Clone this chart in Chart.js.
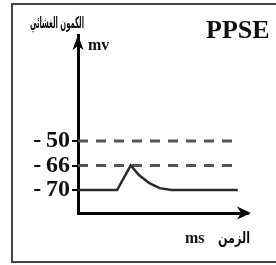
<!DOCTYPE html>
<html>
<head>
<meta charset="utf-8">
<script src="https://cdn.jsdelivr.net/npm/chart.js@4"></script>
<style>
  html, body { margin: 0; padding: 0; background: #fff; }
  #wrap { width: 276px; height: 265px; }
</style>
</head>
<body>
<div id="wrap"><canvas id="ppseChart"></canvas></div>
<script>
// Membrane potential (mV) vs time (ms) - excitatory postsynaptic potential
const timeMs = [0, 23, 31, 36, 42, 48, 55, 94];
const potentialMv = [-70, -70, -66, -67.6, -68.9, -69.7, -70, -70];

// levels marked on the y axis (schematic, evenly spaced)
const levelsMv = [-70, -66, -50];
const dashedLevelsMv = [-50, -66];
const dashEndMs = 91;

// axis texts
const yTitle = 'الكمون الغشائي';
const yUnit = 'mv';
const xTitle = 'الزمن';
const xUnit = 'ms';
const chartTag = 'PPSE';

// the picture spaces the marked levels evenly, so map mV onto level steps
function toLevel(mv) {
    let i = 0;
    while (i < levelsMv.length - 2 && mv > levelsMv[i + 1]) i++;
    return i + (mv - levelsMv[i]) / (levelsMv[i + 1] - levelsMv[i]);
}

const serif = "'Liberation Serif', 'Times New Roman', serif";

const curveData = timeMs.map((t, i) => ({ x: t, y: toLevel(potentialMv[i]) }));
const dashedSets = dashedLevelsMv.map(mv => ({
    data: [{ x: 0, y: toLevel(mv) }, { x: dashEndMs, y: toLevel(mv) }],
    borderColor: '#555',
    borderWidth: 3,
    borderDash: [10, 8],
    pointRadius: 0
}));

const decorPlugin = {
    id: 'decor',
    beforeDraw(chart) {
        const ctx = chart.ctx;
        ctx.save();
        ctx.fillStyle = '#fff';
        ctx.fillRect(0, 0, chart.width, chart.height);
        ctx.strokeStyle = '#444';
        ctx.lineWidth = 2;
        ctx.beginPath();
        ctx.moveTo(290, 4);
        ctx.lineTo(12, 4);
        ctx.lineTo(12, 262);
        ctx.lineTo(290, 262);
        ctx.stroke();
        ctx.restore();
    },
    afterDraw(chart) {
        const ctx = chart.ctx;
        const a = chart.chartArea;
        ctx.save();
        ctx.fillStyle = '#000';
        // y arrow head
        ctx.beginPath();
        ctx.moveTo(a.left, a.top);
        ctx.lineTo(a.left + 5.5, a.top + 15);
        ctx.lineTo(a.left, a.top + 11);
        ctx.lineTo(a.left - 5.5, a.top + 15);
        ctx.closePath();
        ctx.fill();
        // x arrow head
        ctx.beginPath();
        ctx.moveTo(a.right + 3, a.bottom);
        ctx.lineTo(a.right - 11, a.bottom + 6.5);
        ctx.lineTo(a.right - 7, a.bottom);
        ctx.lineTo(a.right - 11, a.bottom - 6.5);
        ctx.closePath();
        ctx.fill();

        ctx.fillStyle = '#111';
        ctx.textBaseline = 'alphabetic';
        ctx.textAlign = 'center';
        ctx.font = "bold 16px 'DejaVu Sans'";
        ctx.fillText(yTitle, 57, 28, 54);
        ctx.textAlign = 'left';
        ctx.font = 'bold 16px ' + serif;
        ctx.fillText(yUnit, 88, 50);
        ctx.font = 'bold 26px ' + serif;
        ctx.fillText(chartTag, 206, 38);
        ctx.font = 'bold 16px ' + serif;
        ctx.fillText(xUnit, 185, 243);
        ctx.textAlign = 'center';
        ctx.font = "bold 16px 'DejaVu Sans'";
        ctx.fillText(xTitle, 234, 243, 32);
        ctx.restore();
    }
};

const ctx = document.getElementById('ppseChart').getContext('2d');

new Chart(ctx, {
    type: 'line',
    data: {
        datasets: [{
            data: curveData,
            borderColor: '#2a2a2a',
            borderWidth: 2.5,
            pointRadius: 0,
            tension: 0
        }].concat(dashedSets)
    },
    options: {
        responsive: true,
        maintainAspectRatio: false,
        animation: false,
        events: [],
        layout: { padding: { left: 12, top: 35, right: 28, bottom: 0 } },
        plugins: {
            legend: { display: false },
            tooltip: { enabled: false }
        },
        scales: {
            x: {
                type: 'linear',
                min: 0,
                max: 100,
                ticks: { display: false },
                grid: { drawOnChartArea: false, drawTicks: false },
                border: { color: '#000', width: 3 },
                afterFit: s => { s.height = 52; }
            },
            y: {
                type: 'linear',
                min: -0.94,
                max: 6.33,
                afterBuildTicks: s => { s.ticks = levelsMv.map((v, i) => ({ value: i })); },
                ticks: {
                    color: '#111',
                    padding: 2,
                    font: { family: serif, size: 24, weight: 'bold' },
                    callback: v => '-\u2009' + Math.abs(levelsMv[v])
                },
                grid: { drawOnChartArea: false, tickLength: 6, color: '#000', lineWidth: 2 },
                border: { color: '#000', width: 3 },
                afterFit: s => { s.width = 66; }
            }
        }
    },
    plugins: [decorPlugin]
});
</script>
</body>
</html>
